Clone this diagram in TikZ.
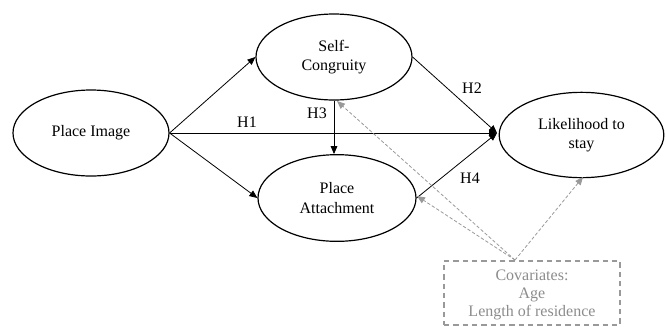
\documentclass[tikz,border=0pt]{standalone}
\usepackage{fontspec}
\setmainfont{Liberation Serif}
\usetikzlibrary{arrows.meta,shapes.geometric}
\begin{document}
\begin{tikzpicture}[x=0.75pt,y=-0.75pt,
  construct/.style={ellipse,draw,line width=0.9pt,align=center,inner sep=0pt,
    font=\fontsize{12pt}{14.5pt}\selectfont},
  path/.style={line width=0.6pt,-{Triangle[length=6pt,width=5pt]}},
  covpath/.style={draw=gray!80,line width=0.6pt,dash pattern=on 2.5pt off 1.5pt,
    -{Triangle[length=6pt,width=5pt]}},
  hlabel/.style={font=\fontsize{12pt}{14.5pt}\selectfont},
  covbox/.style={draw=gray!80,line width=0.9pt,dash pattern=on 4pt off 3pt,inner sep=0pt},
  covtext/.style={text=gray!90,align=center,inner sep=0pt,
    font=\fontsize{12pt}{13.8pt}\selectfont}]
\useasboundingbox (0,0) rectangle (666,326);
\node[construct,minimum width=117pt,minimum height=64.5pt] (pi) at (91,133) {Place Image};
\node[construct,minimum width=117pt,minimum height=64.5pt] (sc) at (334,57) {Self-\\Congruity};
\node[construct,minimum width=118.5pt,minimum height=65pt] (pa) at (337,198) {Place\\Attachment};
\node[construct,minimum width=123.5pt,minimum height=64pt] (lk) at (581.5,135) {Likelihood to\\stay};
\node[covbox,minimum width=132pt,minimum height=48pt] (cov) at (532,293) {};
\node[covtext] (covt) at (532,295) {Covariates:\\Age\\Length of residence};
\coordinate (conv) at (497,133);
\coordinate (cvtop) at (515,260);
\coordinate (scin) at (337,101);
\coordinate (pain) at (417,196);
\coordinate (lkin) at (583,177);
% structural paths
\draw[path] (pi.east) -- (sc.west);
\draw[path] (pi.east) -- (pa.west);
\draw[path] (pi.east) -- (conv);
\draw[path] (sc.south) -- (sc.south |- pa.north);
\draw[path] (sc.east) -- (conv);
\draw[path] (pa.east) -- (conv);
% covariate paths
\draw[covpath] (cvtop) -- (scin);
\draw[covpath] (cvtop) -- (pain);
\draw[covpath] (cvtop) -- (lkin);
% labels
\node[hlabel] (h1) at (247,122) {H1};
\node[hlabel] (h2) at (472,88) {H2};
\node[hlabel] (h3) at (317,113) {H3};
\node[hlabel] (h4) at (470,178) {H4};
\end{tikzpicture}
\end{document}
